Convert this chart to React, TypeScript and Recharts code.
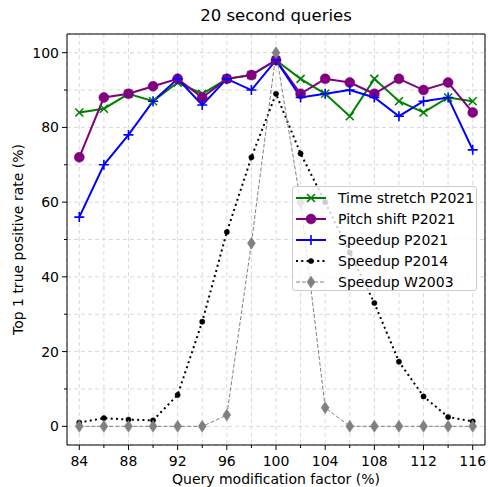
import {
  LineChart,
  Line,
  XAxis,
  YAxis,
  CartesianGrid,
  ReferenceArea,
  Legend,
  Customized,
} from "recharts";

const factors = [84, 86, 88, 90, 92, 94, 96, 98, 100, 102, 104, 106, 108, 110, 112, 114, 116];
const timeStretch = [84, 85, 89, 87, 92, 89, 93, 94, 98, 93, 89, 83, 93, 87, 84, 88, 87];
const pitchShift = [72, 88, 89, 91, 93, 88, 93, 94, 98, 89, 93, 92, 89, 93, 90, 92, 84];
const speedup2021 = [56, 70, 78, 87, 93, 86, 93, 90, 98, 88, 89, 90, 88, 83, 87, 88, 74];
const speedup2014 = [1, 2.2, 1.8, 1.6, 8.4, 28, 52, 72, 89, 73, 60, 46.5, 33, 17.3, 8, 2.5, 1.3];
const speedupW2003 = [0, 0, 0, 0, 0, 0, 3, 49, 100, 60, 5, 0, 0, 0, 0, 0, 0];

const xTicks = [84, 86, 88, 90, 92, 94, 96, 98, 100, 102, 104, 106, 108, 110, 112, 114, 116];
const yTicks = [0, 10, 20, 30, 40, 50, 60, 70, 80, 90, 100];

const FONT = "DejaVu Sans, sans-serif";

const data = factors.map((f, i) => ({
  f,
  ts: timeStretch[i],
  ps: pitchShift[i],
  sp21: speedup2021[i],
  sp14: speedup2014[i],
  w03: speedupW2003[i],
}));

// marker shapes
const xMark = (cx: number, cy: number, color: string, key?: any) => (
  <path
    key={key}
    d={`M${cx - 4},${cy - 4}L${cx + 4},${cy + 4}M${cx - 4},${cy + 4}L${cx + 4},${cy - 4}`}
    stroke={color}
    strokeWidth={1.6}
    fill="none"
  />
);
const plusMark = (cx: number, cy: number, color: string, key?: any) => (
  <path
    key={key}
    d={`M${cx - 5},${cy}L${cx + 5},${cy}M${cx},${cy - 5}L${cx},${cy + 5}`}
    stroke={color}
    strokeWidth={1.6}
    fill="none"
  />
);
const circleMark = (cx: number, cy: number, color: string, r: number, key?: any) => (
  <circle key={key} cx={cx} cy={cy} r={r} fill={color} stroke={color} strokeWidth={0.5} />
);
const diamondMark = (cx: number, cy: number, color: string, key?: any) => (
  <path
    key={key}
    d={`M${cx},${cy - 6}L${cx + 4},${cy}L${cx},${cy + 6}L${cx - 4},${cy}Z`}
    fill={color}
    stroke={color}
    strokeWidth={0.5}
  />
);

const series = [
  { key: "ts", name: "Time stretch P2021", color: "#008000", width: 2, dash: undefined, mark: (x: number, y: number, k?: any) => xMark(x, y, "#008000", k) },
  { key: "ps", name: "Pitch shift P2021", color: "#800080", width: 2, dash: undefined, mark: (x: number, y: number, k?: any) => circleMark(x, y, "#800080", 5, k) },
  { key: "sp21", name: "Speedup P2021", color: "#0000ff", width: 2, dash: undefined, mark: (x: number, y: number, k?: any) => plusMark(x, y, "#0000ff", k) },
  { key: "sp14", name: "Speedup P2014", color: "#000000", width: 2, dash: "2 3.3", mark: (x: number, y: number, k?: any) => circleMark(x, y, "#000000", 2.6, k) },
  { key: "w03", name: "Speedup W2003", color: "#808080", width: 1, dash: "4 2", mark: (x: number, y: number, k?: any) => diamondMark(x, y, "#808080", k) },
];

const XTick = (props: any) => {
  const { x, y, payload } = props;
  const major = payload.value % 4 === 0;
  return (
    <g>
      <line x1={x} x2={x} y1={y} y2={y + (major ? 5 : 3)} stroke="#000" strokeWidth={1} />
      {major && (
        <text x={x} y={y + 21} textAnchor="middle" fontSize={14} fontFamily={FONT} fill="#000">
          {payload.value}
        </text>
      )}
    </g>
  );
};

const YTick = (props: any) => {
  const { x, y, payload } = props;
  const major = payload.value % 20 === 0;
  return (
    <g>
      <line x1={x - (major ? 5 : 3)} x2={x} y1={y} y2={y} stroke="#000" strokeWidth={1} />
      {major && (
        <text x={x - 8} y={y + 5} textAnchor="end" fontSize={14} fontFamily={FONT} fill="#000">
          {payload.value}
        </text>
      )}
    </g>
  );
};

const Labels = () => (
  <g fontFamily={FONT} fill="#000">
    <text x={276} y={21} textAnchor="middle" fontSize={16.5}>
      20 second queries
    </text>
    <text x={276} y={484} textAnchor="middle" fontSize={14}>
      Query modification factor (%)
    </text>
    <text x={23} y={239.5} textAnchor="middle" fontSize={14} transform="rotate(-90 23 239.5)">
      Top 1 true positive rate (%)
    </text>
  </g>
);

const LegendBox = () => (
  <div
    style={{
      width: 185,
      height: 105,
      boxSizing: "border-box",
      border: "1px solid #cccccc",
      borderRadius: 3,
      background: "rgba(255,255,255,0.8)",
      fontFamily: FONT,
      fontSize: 14,
      paddingTop: 1,
    }}
  >
    {series.map((s) => (
      <div key={s.key} style={{ display: "flex", alignItems: "center", height: 20.8 }}>
        <svg width={45} height={20} style={{ flex: "none" }}>
          <line x1={3} x2={33} y1={10} y2={10} stroke={s.color} strokeWidth={s.width} strokeDasharray={s.dash} />
          {s.mark(18, 10)}
        </svg>
        <span style={{ color: "#000", whiteSpace: "nowrap" }}>{s.name}</span>
      </div>
    ))}
  </div>
);

export default function App() {
  return (
    <div style={{ position: "absolute", left: 0, top: 0, width: 488, height: 487, background: "#fff" }}>
      <LineChart width={488} height={487} data={data} margin={{ top: 34, right: 3, left: 0, bottom: 0 }}>
        <CartesianGrid stroke="#d9d9d9" strokeDasharray="4 3" />
        <XAxis
          dataKey="f"
          type="number"
          domain={[83, 117]}
          ticks={xTicks}
          interval={0}
          allowDataOverflow
          height={42}
          tickSize={0}
          tickMargin={0}
          tickLine={false}
          axisLine={false}
          tick={XTick}
        />
        <YAxis
          type="number"
          domain={[-5, 105]}
          ticks={yTicks}
          interval={0}
          allowDataOverflow
          width={67}
          tickSize={0}
          tickMargin={0}
          tickLine={false}
          axisLine={false}
          tick={YTick}
        />
        <ReferenceArea x1={83} x2={117} y1={-5} y2={105} fill="none" stroke="#000" strokeWidth={1} ifOverflow="visible" />
        {series.map((s) => (
          <Line
            key={s.key}
            type="linear"
            dataKey={s.key}
            name={s.name}
            stroke={s.color}
            strokeWidth={s.width}
            strokeDasharray={s.dash}
            dot={(p: any) => s.mark(p.cx, p.cy, `${s.key}-${p.index}`)}
            activeDot={false}
            isAnimationActive={false}
          />
        ))}
        <Legend
          layout="vertical"
          align="center"
          verticalAlign="middle"
          content={() => <LegendBox />}
          wrapperStyle={{ left: 292, top: 186, width: 185, height: 105 }}
        />
        <Customized component={Labels} />
      </LineChart>
    </div>
  );
}
